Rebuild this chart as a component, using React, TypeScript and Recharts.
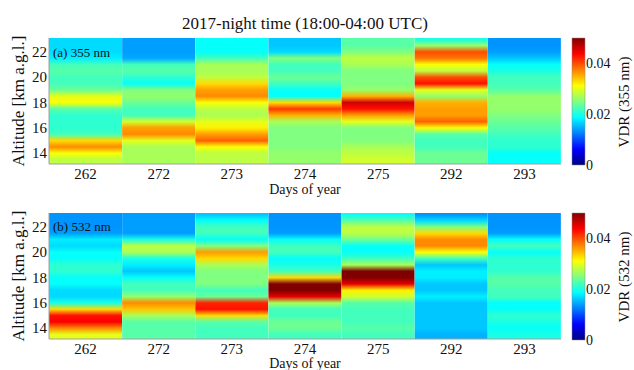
import { BarChart, Bar, XAxis, YAxis, Cell } from "recharts";

document.body.style.margin = "0";

const DAYS = ["262", "272", "273", "274", "275", "292", "293"];

// altitude of each sample, top to bottom (km a.g.l.)
const ALTITUDES = [23.0, 22.5, 22.0, 21.5, 21.0, 20.5, 20.0, 19.5, 19.0, 18.5, 18.0, 17.5, 17.0, 16.5, 16.0, 15.5, 15.0, 14.5, 14.0, 13.5];

// VDR at 355 nm, one profile per day
const vdr355_262 = [0.017, 0.017, 0.017, 0.018, 0.022, 0.023, 0.022, 0.022, 0.024, 0.030, 0.031, 0.023, 0.021, 0.021, 0.021, 0.022, 0.033, 0.037, 0.031, 0.028];
const vdr355_272 = [0.014, 0.014, 0.014, 0.0145, 0.022, 0.023, 0.021, 0.019, 0.025, 0.026, 0.024, 0.022, 0.022, 0.029, 0.036, 0.037, 0.030, 0.027, 0.027, 0.027];
const vdr355_273 = [0.019, 0.019, 0.019, 0.022, 0.027, 0.027, 0.028, 0.033, 0.036, 0.037, 0.031, 0.028, 0.027, 0.030, 0.032, 0.036, 0.039, 0.031, 0.028, 0.028];
const vdr355_274 = [0.016, 0.016, 0.017, 0.025, 0.022, 0.022, 0.024, 0.022, 0.019, 0.019, 0.033, 0.041, 0.035, 0.027, 0.025, 0.025, 0.025, 0.025, 0.026, 0.026];
const vdr355_275 = [0.023, 0.023, 0.025, 0.028, 0.027, 0.025, 0.025, 0.025, 0.026, 0.035, 0.046, 0.043, 0.036, 0.030, 0.025, 0.025, 0.025, 0.027, 0.028, 0.029];
const vdr355_292 = [0.020, 0.026, 0.040, 0.038, 0.031, 0.028, 0.040, 0.043, 0.030, 0.026, 0.035, 0.036, 0.036, 0.039, 0.031, 0.023, 0.022, 0.022, 0.024, 0.024];
const vdr355_293 = [0.0135, 0.0135, 0.014, 0.016, 0.019, 0.020, 0.022, 0.022, 0.023, 0.026, 0.026, 0.026, 0.025, 0.024, 0.023, 0.022, 0.021, 0.021, 0.019, 0.019];

// VDR at 532 nm, one profile per day
const vdr532_262 = [0.0135, 0.0135, 0.0135, 0.014, 0.018, 0.017, 0.019, 0.019, 0.021, 0.021, 0.019, 0.019, 0.017, 0.017, 0.020, 0.033, 0.043, 0.044, 0.037, 0.030];
const vdr532_272 = [0.014, 0.014, 0.014, 0.014, 0.020, 0.028, 0.027, 0.020, 0.018, 0.016, 0.019, 0.022, 0.022, 0.026, 0.037, 0.034, 0.027, 0.023, 0.023, 0.023];
const vdr532_273 = [0.016, 0.019, 0.022, 0.022, 0.019, 0.025, 0.036, 0.033, 0.027, 0.025, 0.025, 0.025, 0.022, 0.024, 0.042, 0.043, 0.033, 0.023, 0.022, 0.022];
const vdr532_274 = [0.0135, 0.0135, 0.0135, 0.014, 0.019, 0.022, 0.022, 0.019, 0.020, 0.022, 0.033, 0.050, 0.050, 0.045, 0.027, 0.022, 0.022, 0.024, 0.024, 0.022];
const vdr532_275 = [0.019, 0.023, 0.028, 0.028, 0.024, 0.019, 0.019, 0.022, 0.027, 0.050, 0.050, 0.045, 0.032, 0.029, 0.023, 0.022, 0.022, 0.022, 0.023, 0.022];
const vdr532_292 = [0.0135, 0.017, 0.025, 0.033, 0.037, 0.037, 0.031, 0.022, 0.016, 0.018, 0.018, 0.016, 0.016, 0.018, 0.016, 0.016, 0.016, 0.016, 0.016, 0.015];
const vdr532_293 = [0.0135, 0.0135, 0.0135, 0.014, 0.019, 0.022, 0.019, 0.021, 0.021, 0.021, 0.023, 0.023, 0.022, 0.022, 0.019, 0.019, 0.021, 0.020, 0.019, 0.020];

const ALT_TICKS = [14, 16, 18, 20, 22];
const VDR_TICKS = [0, 0.02, 0.04];

const Y_MIN = 13.15;
const Y_MAX = 23.1;
const VDR_MAX = 0.05;
const FONT = "'Liberation Serif', 'Times New Roman', serif";

const profiles355 = [vdr355_262, vdr355_272, vdr355_273, vdr355_274, vdr355_275, vdr355_292, vdr355_293];
const profiles532 = [vdr532_262, vdr532_272, vdr532_273, vdr532_274, vdr532_275, vdr532_292, vdr532_293];

const clamp = (v: number) => Math.max(0, Math.min(1, v));

// matlab style jet colormap
function jet(v: number) {
  const t = clamp(v / VDR_MAX);
  const r = clamp(1.5 - Math.abs(4 * t - 3));
  const g = clamp(1.5 - Math.abs(4 * t - 2));
  const b = clamp(1.5 - Math.abs(4 * t - 1));
  return `rgb(${Math.round(r * 255)},${Math.round(g * 255)},${Math.round(b * 255)})`;
}

function ProfileGradient({ id, values }: { id: string; values: number[] }) {
  const span = Y_MAX - Y_MIN;
  return (
    <linearGradient id={id} x1="0" y1="0" x2="0" y2="1">
      <stop offset="0" stopColor={jet(values[0])} />
      {values.map((v, i) => (
        <stop key={i} offset={(Y_MAX - ALTITUDES[i]) / span} stopColor={jet(v)} />
      ))}
      <stop offset="1" stopColor={jet(values[values.length - 1])} />
    </linearGradient>
  );
}

const JET_STEPS = [0, 0.125, 0.25, 0.375, 0.5, 0.625, 0.75, 0.875, 1];

function Gradients() {
  return (
    <svg width={0} height={0} style={{ position: "absolute" }}>
      <defs>
        {profiles355.map((p, i) => <ProfileGradient key={"a" + i} id={`g355-${i}`} values={p} />)}
        {profiles532.map((p, i) => <ProfileGradient key={"b" + i} id={`g532-${i}`} values={p} />)}
        <linearGradient id="jetbar" x1="0" y1="1" x2="0" y2="0">
          {JET_STEPS.map((s) => (
            <stop key={s} offset={s} stopColor={jet(s * VDR_MAX)} />
          ))}
        </linearGradient>
      </defs>
    </svg>
  );
}

const frame = { stroke: "#a0a0a0" };

const DayTick = ({ x, y, payload }: any) => (
  <text x={x} y={y} dy={9} textAnchor="middle" fontFamily={FONT} fontSize={15} fill="#111">
    {String(payload.value)}
  </text>
);

const AltTick = ({ x, y, payload }: any) => (
  <text x={x} y={y} dy={5} textAnchor="end" fontFamily={FONT} fontSize={15} fill="#111">
    {String(payload.value)}
  </text>
);

const VdrTick = ({ x, y, payload }: any) => (
  <text x={x} y={y} dy={5} textAnchor="start" fontFamily={FONT} fontSize={14} fill="#111">
    {payload.value === 0 ? "0" : Number(payload.value).toFixed(2)}
  </text>
);

function Heatmap({ gid, top }: { gid: string; top: number }) {
  const data = DAYS.map((d) => ({ day: d, span: [Y_MIN, Y_MAX] }));
  return (
    <div style={{ position: "absolute", left: 0, top }}>
      <BarChart width={570} height={200} data={data} barCategoryGap={0} margin={{ top: 38, right: 9, bottom: 6, left: 19 }}>
        <XAxis xAxisId="b" dataKey="day" height={30} interval={0} tickLine={false} axisLine={frame} tick={DayTick} tickMargin={0} />
        <XAxis xAxisId="t" dataKey="day" orientation="top" height={0} tick={false} tickLine={false} axisLine={frame} />
        <YAxis yAxisId="l" type="number" domain={[Y_MIN, Y_MAX]} ticks={ALT_TICKS} allowDataOverflow width={30} tickLine={false} axisLine={frame} tick={AltTick} tickMargin={-4} />
        <YAxis yAxisId="r" orientation="right" width={0} tick={false} tickLine={false} axisLine={frame} />
        <Bar xAxisId="b" yAxisId="l" dataKey="span" isAnimationActive={false}>
          {data.map((_, i) => (
            <Cell key={i} fill={`url(#${gid}-${i})`} />
          ))}
        </Bar>
      </BarChart>
    </div>
  );
}

function ColorBar({ top }: { top: number }) {
  const data = [{ name: "vdr", span: [0, VDR_MAX] }];
  return (
    <div style={{ position: "absolute", left: 560, top }}>
      <BarChart width={74} height={200} data={data} barCategoryGap={0} margin={{ top: 38, right: 22, bottom: 35, left: 12 }}>
        <XAxis dataKey="name" hide />
        <YAxis
          orientation="right"
          type="number"
          domain={[0, VDR_MAX]}
          ticks={VDR_TICKS}
          width={27}
          axisLine={false}
          tickLine={false}
          tickMargin={-5}
          tick={VdrTick}
        />
        <Bar dataKey="span" fill="url(#jetbar)" stroke="#888" strokeWidth={0.5} isAnimationActive={false} />
      </BarChart>
    </div>
  );
}

const textBase: React.CSSProperties = { position: "absolute", fontFamily: FONT, color: "#111", whiteSpace: "nowrap", lineHeight: 1 };

function Rotated({ text, cx, cy, size, angle }: { text: string; cx: number; cy: number; size: number; angle: number }) {
  return (
    <div style={{ ...textBase, left: cx, top: cy, fontSize: size, transform: `translate(-50%, -50%) rotate(${angle}deg)` }}>{text}</div>
  );
}

export default function App() {
  return (
    <div style={{ position: "relative", width: 634, height: 370, background: "#fff", overflow: "hidden", fontFamily: FONT }}>
      <Gradients />
      <div style={{ ...textBase, left: 0, width: 610, top: 15, textAlign: "center", fontSize: 17 }}>2017-night time (18:00-04:00 UTC)</div>

      <Heatmap gid="g355" top={0} />
      <ColorBar top={0} />
      <div style={{ ...textBase, left: 53, top: 46, fontSize: 13 }}>(a) 355 nm</div>
      <Rotated text="Altitude [km a.g.l.]" cx={18} cy={101} size={17} angle={-90} />
      <Rotated text="VDR (355 nm)" cx={624} cy={102} size={15} angle={-90} />
      <div style={{ ...textBase, left: 0, width: 610, top: 183, textAlign: "center", fontSize: 14 }}>Days of year</div>

      <Heatmap gid="g532" top={175} />
      <ColorBar top={175} />
      <div style={{ ...textBase, left: 53, top: 220, fontSize: 13 }}>(b) 532 nm</div>
      <Rotated text="Altitude [km a.g.l.]" cx={18} cy={276} size={17} angle={-90} />
      <Rotated text="VDR (532 nm)" cx={624} cy={277} size={15} angle={-90} />
      <div style={{ ...textBase, left: 0, width: 610, top: 357, textAlign: "center", fontSize: 14 }}>Days of year</div>
    </div>
  );
}
